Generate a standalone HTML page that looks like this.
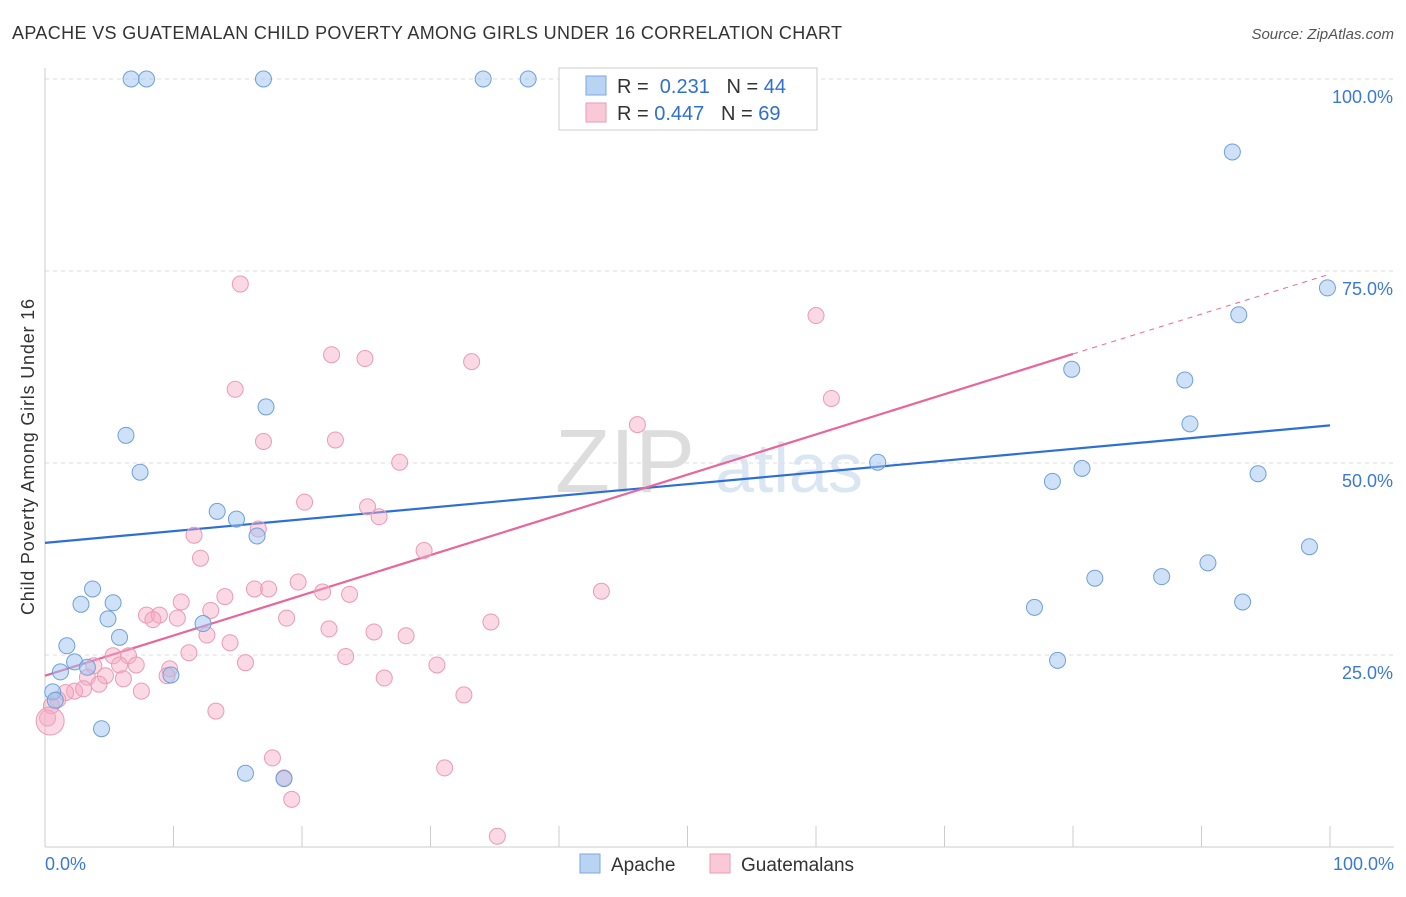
<!DOCTYPE html>
<html><head><meta charset="utf-8"><style>
body{margin:0;background:#fff;font-family:"Liberation Sans",sans-serif}
svg text{font-family:"Liberation Sans",sans-serif}
</style></head><body>
<svg width="1406" height="892" xmlns="http://www.w3.org/2000/svg">
<text x="12" y="39" font-size="18" fill="#333" textLength="830">APACHE VS GUATEMALAN CHILD POVERTY AMONG GIRLS UNDER 16 CORRELATION CHART</text>
<text x="1394" y="39" font-size="15" fill="#555" font-style="italic" text-anchor="end">Source: ZipAtlas.com</text>
<text x="34" y="457" font-size="18" fill="#333" text-anchor="middle" textLength="316" transform="rotate(-90 34 457)">Child Poverty Among Girls Under 16</text>
<text x="555" y="492" font-size="90" fill="#ddd" font-family="Liberation Serif">ZIP</text>
<text x="715" y="492" font-size="70" fill="#dbe6f3">atlas</text>
<g id="grid"></g><g id="axes"></g><g id="lines"></g><g id="pts"></g>
<g>
<rect x="559" y="68" width="258" height="62" fill="#fff" stroke="#ccc"/>
<rect x="586" y="76" width="20" height="19" fill="#b9d3f2" stroke="#7aa7e0"/>
<rect x="586" y="103" width="20" height="19" fill="#f9c9d8" stroke="#ef9ab6"/>
<text x="617" y="93" font-size="20" fill="#333">R = <tspan fill="#2e6fd1">&#160;0.231</tspan>&#160;&#160;&#160;N = <tspan fill="#2e6fd1">44</tspan></text>
<text x="617" y="120" font-size="20" fill="#333">R = <tspan fill="#2e6fd1">0.447</tspan>&#160;&#160;&#160;N = <tspan fill="#2e6fd1">69</tspan></text>
</g>
<g>
<rect x="580" y="854" width="20" height="19" fill="#b9d3f2" stroke="#7aa7e0"/>
<text x="611" y="871" font-size="19" fill="#333">Apache</text>
<rect x="710" y="854" width="20" height="19" fill="#f9c9d8" stroke="#ef9ab6"/>
<text x="741" y="871" font-size="19" fill="#333">Guatemalans</text>
</g>
</svg>
<script>
const yTicks=[25,50,75,100];
const yTickLabels=["25.0%","50.0%","75.0%","100.0%"];
const apacheX=[6.7,7.9,17,34.1,37.6,92.4,99.8,92.9,79.9,88.7,89.1,17.2,6.3,7.4,64.8,80.7,78.4,94.4,13.4,14.9,16.5,98.4,3.7,2.8,5.3,4.9,81.7,86.9,90.5,77,93.2,12.3,5.8,1.7,2.3,1.2,3.3,9.8,78.8,0.6,0.8,4.4,15.6,18.6];
const apacheY=[100,100,100,100,100,90.5,72.8,69.3,62.2,60.8,55.1,57.3,53.6,48.8,50.1,49.3,47.6,48.6,43.7,42.7,40.5,39.1,33.6,31.6,31.8,29.7,35,35.2,37,31.2,31.9,29.1,27.3,26.2,24.1,22.8,23.4,22.4,24.3,20.2,19.1,15.4,9.6,8.9];
const guatX=[15.2,60,22.3,24.9,33.2,14.8,61.2,17,22.6,46.1,27.6,20.2,25.1,26,16.6,11.6,29.5,12.1,43.3,16.3,17.4,19.7,21.6,23.7,10.6,7.9,8.9,8.4,12.9,14,10.3,18.8,22.1,25.6,28.1,34.7,12.6,14.4,11.2,23.4,5.3,6.5,3.8,5.8,7.1,15.6,30.5,9.7,9.5,4.7,3.3,4.2,6.1,2.3,3,1.6,7.5,26.4,32.6,1,0.5,0.2,13.3,17.7,31.1,18.6,19.2,35.2,0.4];
const guatY=[73.3,69.2,64.1,63.6,63.2,59.6,58.4,52.8,53,55,50.1,44.9,44.3,43,41.4,40.6,38.6,37.6,33.3,33.6,33.6,34.5,33.2,32.9,31.9,30.2,30.2,29.6,30.8,32.6,29.8,29.8,28.4,28,27.5,29.3,27.6,26.6,25.3,24.8,24.9,24.9,23.6,23.7,23.7,24,23.7,23.2,22.3,22.3,22.1,21.2,21.9,20.3,20.6,20.1,20.3,22,19.8,19.2,18.4,16.8,17.7,11.6,10.3,9,6.2,1.4,16.4];
const X=v=>45+v*12.85, Y=v=>847-v*7.68;
const NS="http://www.w3.org/2000/svg";
function mk(p,t,a){const e=document.createElementNS(NS,t);for(const k in a)e.setAttribute(k,a[k]);document.getElementById(p).appendChild(e);return e;}
yTicks.forEach((t,i)=>{
 const g=mk('grid','line',{x1:45,x2:1394,y1:Y(t),y2:Y(t),stroke:'#ddd','stroke-dasharray':'4,4'});
 
 
 const l=mk('axes','text',{x:1393,y:Y(t)+24,'font-size':18,fill:'#3b78d8','text-anchor':'end'});
 l.textContent=yTickLabels[i];
 
 
});
const ax=mk('axes','line',{x1:45,x2:1394,y1:847,y2:847,stroke:'#ccc'});


const ay=mk('axes','line',{x1:45,x2:45,y1:68,y2:847,stroke:'#ccc'});


for(let i=1;i<=10;i++){const t=mk('axes','line',{x1:X(i*10),x2:X(i*10),y1:826,y2:847,stroke:'#ccc'});
 
 }
[[0,"0.0%","start",45],[100,"100.0%","end",1394]].forEach(d=>{const t=mk('axes','text',{x:d[3],y:870,'font-size':18,fill:'#3b78d8','text-anchor':d[2]});t.textContent=d[1];
 
 });
const bl=mk('lines','line',{x1:X(0),y1:Y(39.6),x2:X(100),y2:Y(54.9),stroke:'#2d6fd6','stroke-width':2.2});


const pl=mk('lines','line',{x1:X(0),y1:Y(22.3),x2:X(80),y2:Y(64.2),stroke:'#e8679a','stroke-width':2.2});


const pd=mk('lines','line',{x1:X(80),y1:Y(64.2),x2:X(100),y2:Y(74.6),stroke:'#e8679a','stroke-width':1,'stroke-dasharray':'5,5'});


guatX.forEach((x,i)=>{const c=mk('pts','circle',{cx:X(x),cy:Y(guatY[i]),r:i===guatX.length-1?14:8,fill:'rgba(245,170,195,0.45)',stroke:'#ec9ab7','stroke-width':1});
 
 });
apacheX.forEach((x,i)=>{const c=mk('pts','circle',{cx:X(x),cy:Y(apacheY[i]),r:8,fill:'rgba(160,195,240,0.5)',stroke:'#6f9fdc','stroke-width':1});
 
 });
</script>
</body></html>
